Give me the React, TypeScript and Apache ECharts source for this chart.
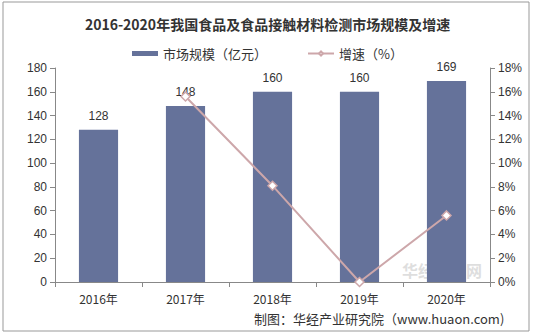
import React, { useEffect, useRef } from "react";
import * as echarts from "echarts";

const categories = ["2016年", "2017年", "2018年", "2019年", "2020年"];
const marketSize = [128, 148, 160, 160, 169];
const growth = [null, 15.6, 8.1, 0, 5.6];

export default function App() {
  const ref = useRef<HTMLDivElement>(null);
  useEffect(() => {
    const chart = echarts.init(ref.current!, undefined, { renderer: "svg" });
    const axisLabel = { color: "#333", fontSize: 12, fontFamily: "Arial, 'Liberation Sans', sans-serif" };
    chart.setOption({
      animation: false,
      backgroundColor: "#fff",
      title: {
        text: "2016-2020年我国食品及食品接触材料检测市场规模及增速",
        left: "center",
        top: 12,
        textStyle: { fontSize: 14, fontWeight: "bold", color: "#333", fontFamily: "'Noto Sans CJK SC', serif" },
      },
      legend: {
        top: 42,
        left: "center",
        itemGap: 40,
        itemWidth: 26,
        itemHeight: 5,
        textStyle: { fontSize: 13, color: "#333", fontFamily: "'Noto Sans CJK SC', sans-serif" },
        data: [
          { name: "市场规模（亿元）", icon: "rect" },
          { name: "增速（%）" },
        ],
      },
      grid: { left: 55, right: 45, top: 68, bottom: 54 },
      xAxis: {
        type: "category",
        data: categories,
        axisLine: { lineStyle: { color: "#888" } },
        axisTick: { show: true, alignWithLabel: false, lineStyle: { color: "#888" } },
        axisLabel: { ...axisLabel, margin: 10, fontFamily: "'Noto Sans CJK SC', Arial, sans-serif" },
      },
      yAxis: [
        {
          type: "value",
          min: 0,
          max: 180,
          interval: 20,
          splitLine: { show: false },
          axisLine: { show: true, lineStyle: { color: "#888" } },
          axisTick: { show: true, lineStyle: { color: "#888" } },
          axisLabel,
        },
        {
          type: "value",
          min: 0,
          max: 18,
          interval: 2,
          splitLine: { show: false },
          axisLine: { show: true, lineStyle: { color: "#888" } },
          axisTick: { show: true, lineStyle: { color: "#888" } },
          axisLabel: { ...axisLabel, formatter: "{value}%" },
        },
      ],
      series: [
        {
          name: "市场规模（亿元）",
          type: "bar",
          data: marketSize,
          barWidth: "45%",
          itemStyle: { color: "#65729A" },
          label: {
            show: true,
            position: "top",
            distance: 8,
            color: "#333",
            fontSize: 12,
            fontFamily: "Arial, sans-serif",
          },
        },
        {
          name: "增速（%）",
          type: "line",
          yAxisIndex: 1,
          data: growth,
          symbol: "diamond",
          symbolSize: 9,
          lineStyle: { color: "#CDA7AA", width: 2 },
          itemStyle: { color: "#fff", borderColor: "#CDA7AA", borderWidth: 1.5 },
        },
      ],
      graphic: [
        {
          type: "rect",
          shape: { x: 3, y: 2, width: 526, height: 329 },
          style: { fill: "none", stroke: "#999", lineWidth: 1 },
          silent: true,
        },
        {
          type: "text",
          x: 402,
          y: 262,
          style: {
            text: "华经情报网",
            fontSize: 16,
            fontWeight: "bold",
            fill: "rgba(190,190,190,0.5)",
            fontFamily: "'Noto Sans CJK SC', sans-serif",
          },
          silent: true,
        },
        {
          type: "text",
          x: 254,
          y: 312,
          style: {
            text: "制图：华经产业研究院（www.huaon.com)",
            fontSize: 13,
            fill: "#333",
            fontFamily: "'Noto Sans CJK SC', sans-serif",
          },
          silent: true,
        },
      ],
    });
    return () => chart.dispose();
  }, []);
  return (
    <div
      ref={ref}
      style={{ position: "fixed", left: 0, top: 0, width: 535, height: 336 }}
    />
  );
}
